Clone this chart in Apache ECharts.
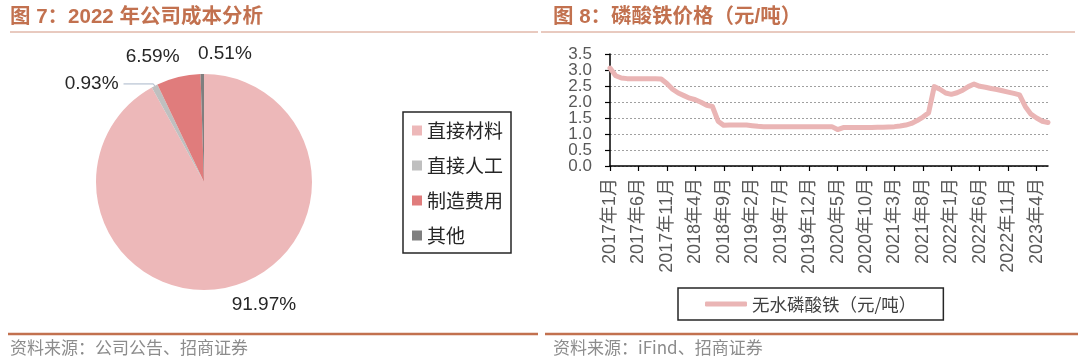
<!DOCTYPE html>
<html>
<head>
<meta charset="utf-8">
<script src="https://cdn.jsdelivr.net/npm/echarts@6/dist/echarts.min.js"></script>
<style>
  html, body { margin: 0; padding: 0; background: #ffffff; }
  #main { width: 1080px; height: 361px; }
</style>
</head>
<body>
<div id="main"></div>
<script>
// 2022 cost structure (share of total cost, %)
const costNames = ['直接材料', '直接人工', '制造费用', '其他'];
const costShares = [91.97, 0.93, 6.59, 0.51];
const costColors = ['#EDB8B9', '#BFBFBF', '#E07C7C', '#7F7F7F'];

// Anhydrous iron phosphate price, monthly from 2017-01
const priceName = '无水磷酸铁（元/吨）';
const priceStartYear = 2017;
const priceValues = [
  3.06, 2.82, 2.75, 2.73, 2.73, 2.73, 2.73, 2.73, 2.73, 2.72, 2.58, 2.40,   // 2017
  2.28, 2.20, 2.12, 2.07, 1.99, 1.90, 1.86, 1.40, 1.27, 1.28, 1.28, 1.28,   // 2018
  1.28, 1.26, 1.24, 1.23, 1.23, 1.23, 1.23, 1.23, 1.23, 1.23, 1.23, 1.23,   // 2019
  1.23, 1.23, 1.23, 1.23, 1.14, 1.20, 1.20, 1.20, 1.20, 1.20, 1.20, 1.21,   // 2020
  1.21, 1.22, 1.23, 1.25, 1.28, 1.33, 1.42, 1.53, 1.66, 2.48, 2.40, 2.28,   // 2021
  2.24, 2.29, 2.37, 2.48, 2.56, 2.49, 2.46, 2.42, 2.39, 2.35, 2.31, 2.27,   // 2022
  2.22, 1.86, 1.62, 1.50, 1.40, 1.36                                        // 2023
];
const yMin = 0;
const yMax = 3.5;
const yStep = 0.5;
const xLabelEvery = 5;

const months = priceValues.map(function (_, i) {
  return (priceStartYear + Math.floor(i / 12)) + '年' + (i % 12 + 1) + '月';
});

const FONT = '"Liberation Sans", Arial, "Noto Sans CJK SC", sans-serif';
const CJK = '"Noto Sans CJK SC", "Liberation Sans", sans-serif';
const TITLE_COLOR = '#C2714F';
const LINE_COLOR = '#EAB5B5';

// per-slice label placement: leader length, horizontal run, gap to text
const pieLabelCfg = [
  { len: 19, len2: 0, dist: -4, line: false, pad: 0 },
  { len: 2.3, len2: 30, dist: 5, line: true, pad: 8 },
  { len: 20.7, len2: 0, dist: -6, line: false, pad: 0 },
  { len: 20, len2: 0, dist: 4, line: false, pad: 0 }
];

const pieData = costNames.map(function (name, i) {
  const c = pieLabelCfg[i];
  return {
    name: name,
    value: costShares[i],
    itemStyle: { color: costColors[i] },
    label: { distanceToLabelLine: c.dist, padding: [0, 0, c.pad, 0] },
    labelLine: { show: c.line, length: c.len, length2: c.len2 }
  };
});

const yLabelStyle = { margin: 18, fontFamily: FONT, fontSize: 17, color: '#595959' };

const chart = echarts.init(document.getElementById('main'), null, { renderer: 'canvas' });

chart.setOption({
  animation: false,
  backgroundColor: '#ffffff',
  title: [
    { text: '图 7：2022 年公司成本分析', left: 10, top: 7, padding: 0,
      textStyle: { fontFamily: FONT, fontSize: 20.5, fontWeight: 'bold', color: TITLE_COLOR } },
    { text: '图 8：磷酸铁价格（元/吨）', left: 553, top: 7, padding: 0,
      textStyle: { fontFamily: FONT, fontSize: 20.5, fontWeight: 'bold', color: TITLE_COLOR } },
    { text: '资料来源：公司公告、招商证券', left: 10, top: 339, padding: 0,
      textStyle: { fontFamily: CJK, fontSize: 17, fontWeight: 'normal', color: '#8C8C8C' } },
    { text: '资料来源：iFind、招商证券', left: 553, top: 339, padding: 0,
      textStyle: { fontFamily: CJK, fontSize: 17, fontWeight: 'normal', color: '#8C8C8C' } }
  ],
  graphic: [
    { type: 'line', shape: { x1: 10, y1: 32, x2: 538, y2: 32 }, style: { stroke: '#D29580', lineWidth: 1 } },
    { type: 'line', shape: { x1: 541, y1: 32, x2: 1075, y2: 32 }, style: { stroke: '#D29580', lineWidth: 1 } },
    { type: 'line', shape: { x1: 8, y1: 334, x2: 538, y2: 334 }, style: { stroke: '#C2714F', lineWidth: 2.5 } },
    { type: 'line', shape: { x1: 545, y1: 334, x2: 1078, y2: 334 }, style: { stroke: '#C2714F', lineWidth: 2.5 } }
  ],
  legend: [
    {
      data: costNames,
      orient: 'vertical',
      left: 403, top: 112,
      padding: [9, 8, 8, 9],
      itemGap: 16,
      itemWidth: 10, itemHeight: 10,
      icon: 'rect',
      borderColor: '#262626', borderWidth: 1.5,
      textStyle: { fontFamily: CJK, fontSize: 19, color: '#262626' }
    },
    {
      data: [{ name: priceName, icon: 'roundRect' }],
      left: 678, top: 288,
      padding: [7, 27, 7, 27],
      itemWidth: 42, itemHeight: 5,
      itemStyle: { color: LINE_COLOR, borderWidth: 0 },
      borderColor: '#262626', borderWidth: 1.5,
      textStyle: { fontFamily: CJK, fontSize: 17.5, color: '#404040', lineHeight: 18 }
    }
  ],
  grid: {
    left: 610, right: 32, top: 54, bottom: 195,
    outerBoundsMode: 'none'
  },
  xAxis: {
    type: 'category',
    data: months,
    boundaryGap: false,
    axisLine: { show: true, lineStyle: { color: '#000000', width: 1.5 } },
    axisTick: { show: true, interval: xLabelEvery - 1, length: 5, lineStyle: { color: '#000000', width: 1.2 } },
    axisLabel: {
      interval: xLabelEvery - 1, rotate: 90, margin: 12,
      fontFamily: FONT, fontSize: 18, color: '#595959'
    },
    splitLine: { show: false }
  },
  yAxis: [
    {
      // main value axis: line, ticks, gridlines and the end labels
      type: 'value',
      min: yMin, max: yMax, interval: yStep,
      axisLine: { show: true, lineStyle: { color: '#000000', width: 1.5 } },
      axisTick: { show: true, length: 5, lineStyle: { color: '#000000', width: 1.2 } },
      axisLabel: Object.assign({}, yLabelStyle, {
        showMinLabel: true, showMaxLabel: true,
        formatter: function (v) { return (v === yMin || v === yMax) ? v.toFixed(1) : ''; }
      }),
      splitLine: { show: true, lineStyle: { color: '#A0A0A0', width: 1, type: [2, 2] } }
    },
    {
      // same scale, carries the inner tick labels
      type: 'value',
      position: 'left',
      min: yMin, max: yMax, interval: yStep,
      axisLine: { show: false },
      axisTick: { show: false },
      splitLine: { show: false },
      axisLabel: Object.assign({}, yLabelStyle, {
        showMinLabel: false, showMaxLabel: false,
        formatter: function (v) { return v.toFixed(1); }
      })
    }
  ],
  series: [
    {
      type: 'pie',
      center: [204, 182],
      radius: 108,
      startAngle: 90,
      clockwise: true,
      avoidLabelOverlap: false,
      data: pieData,
      itemStyle: { borderWidth: 0 },
      label: {
        show: true, position: 'outside',
        fontFamily: FONT, fontSize: 19, color: '#262626',
        formatter: function (p) { return p.value.toFixed(2) + '%'; }
      },
      labelLine: { lineStyle: { color: '#A9B7C9', width: 1 }, minTurnAngle: 0 },
      labelLayout: function (p) {
        if (p.dataIndex === 3) { return { align: 'left' }; }
      },
      emphasis: { disabled: true }
    },
    {
      type: 'line',
      name: priceName,
      data: priceValues,
      yAxisIndex: 0,
      symbol: 'none',
      smooth: false,
      lineStyle: { color: LINE_COLOR, width: 5, cap: 'round', join: 'round' },
      itemStyle: { color: LINE_COLOR },
      emphasis: { disabled: true }
    }
  ]
});
</script>
</body>
</html>
